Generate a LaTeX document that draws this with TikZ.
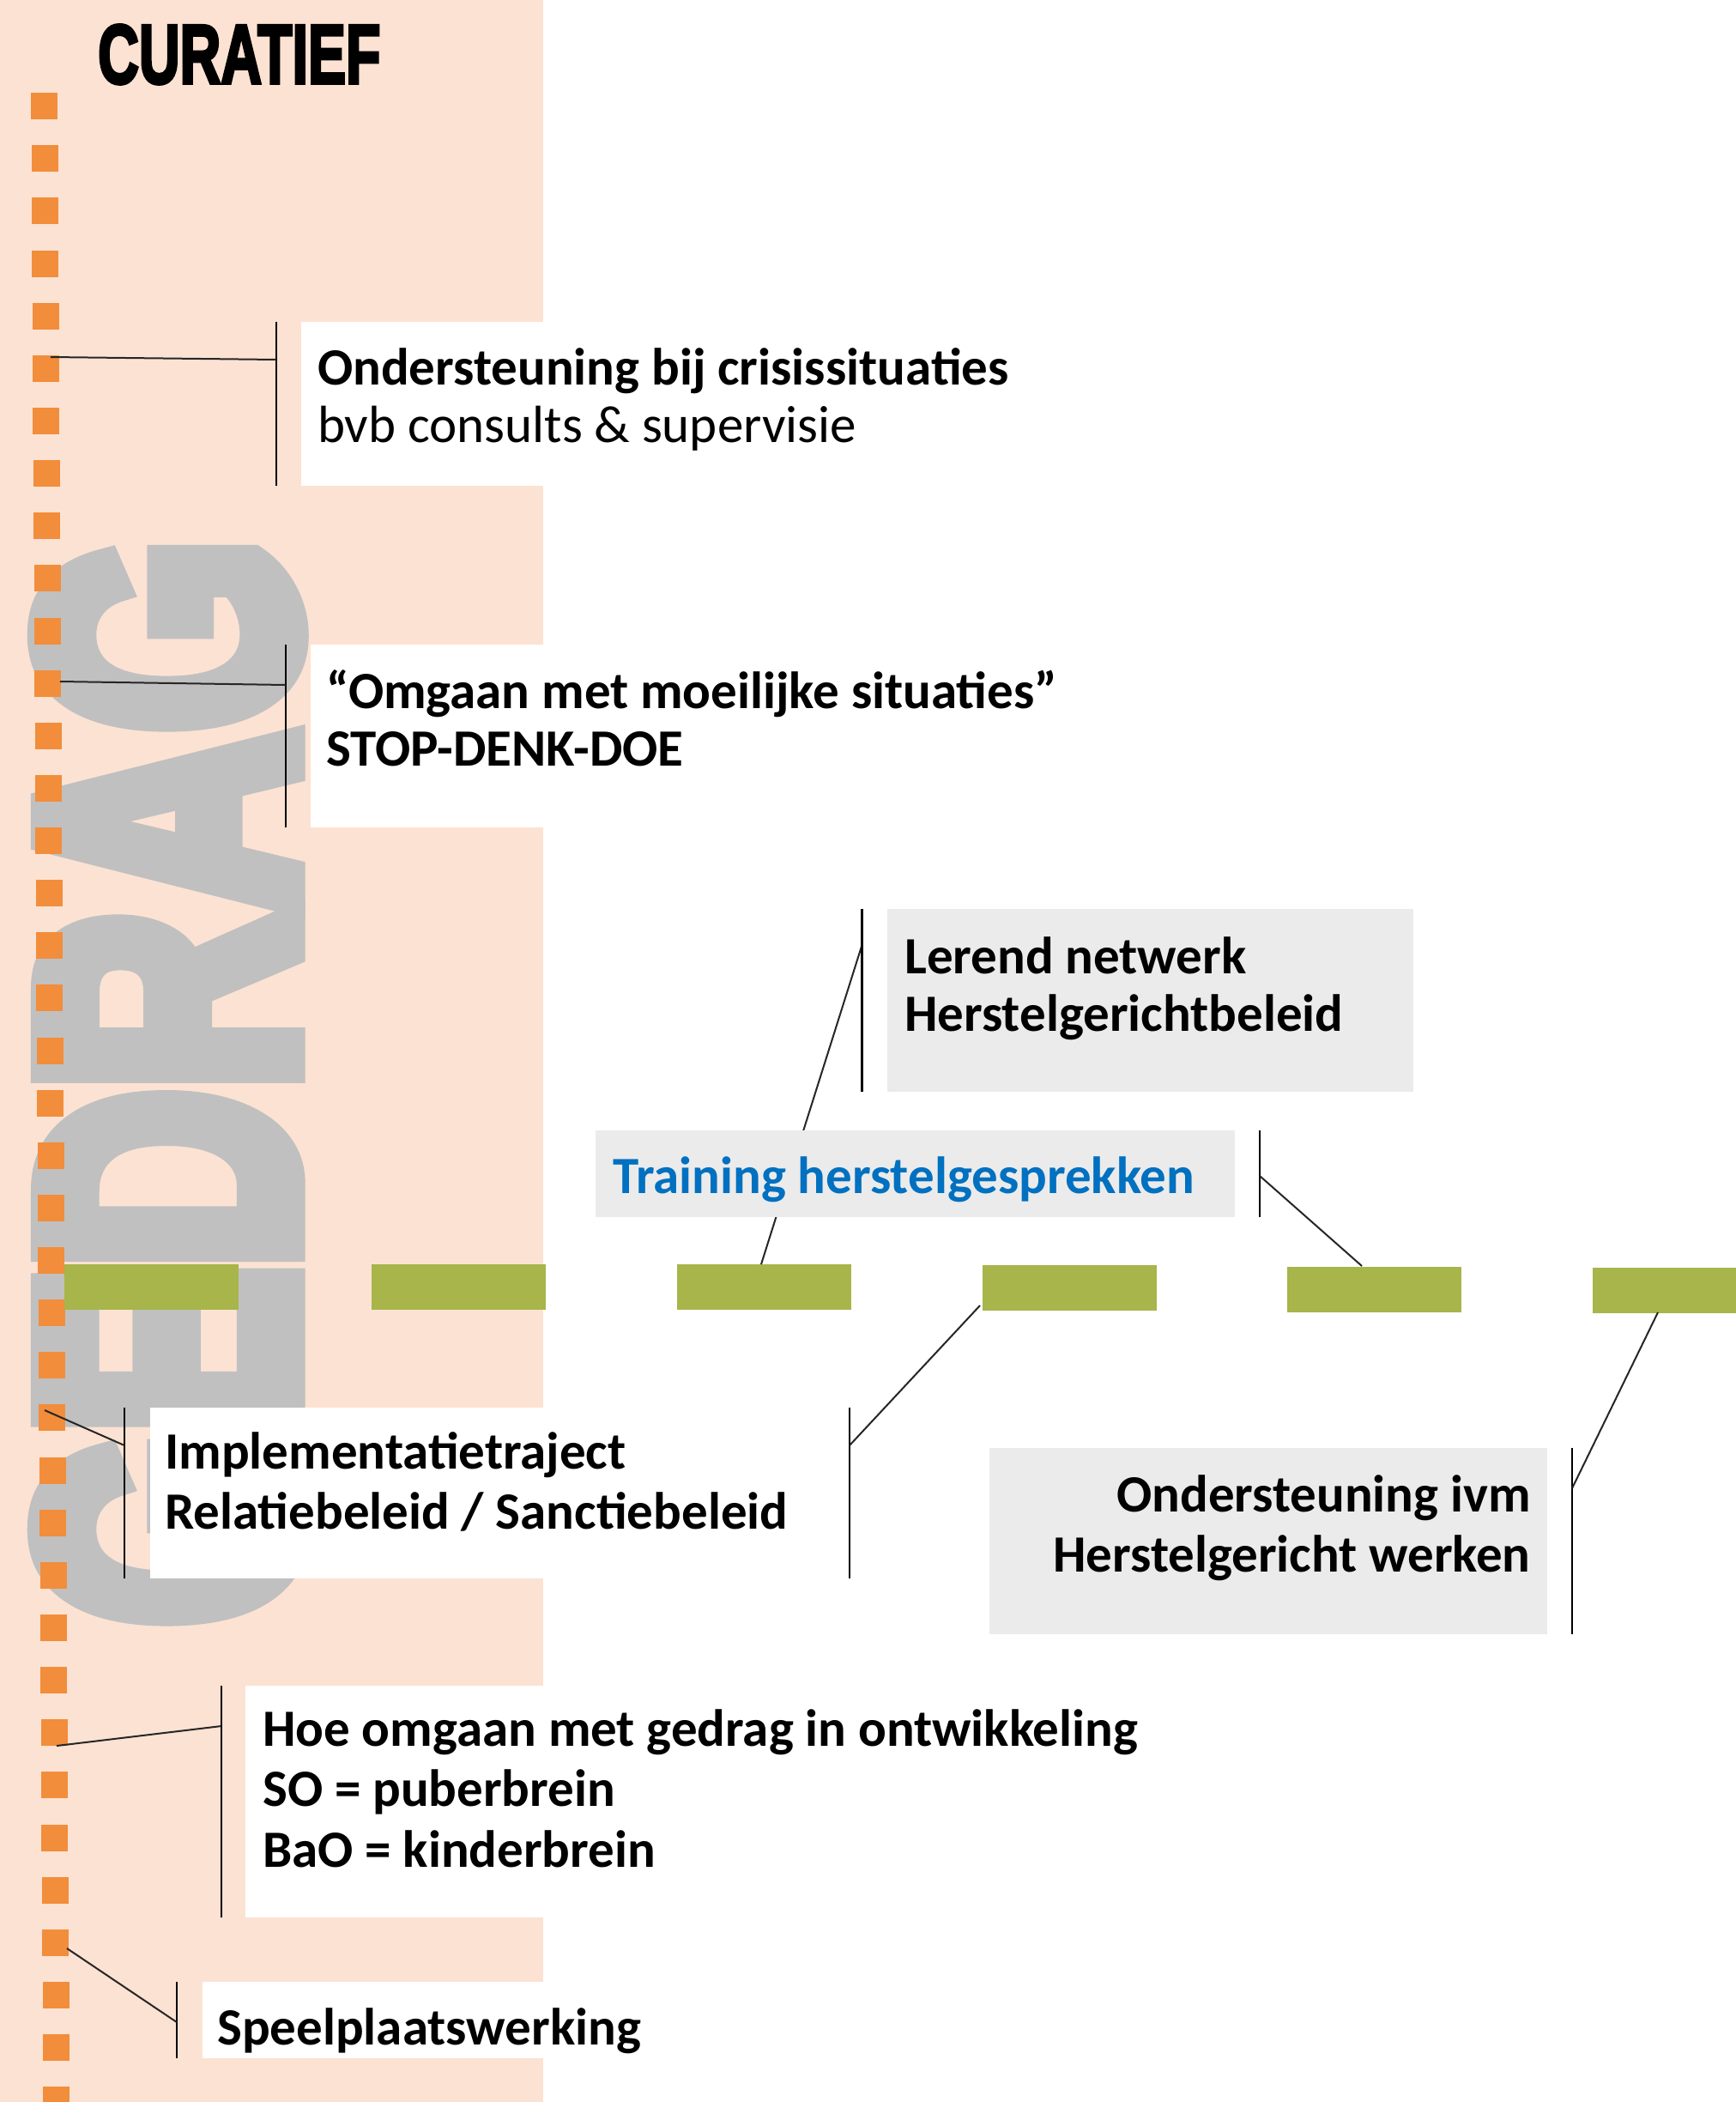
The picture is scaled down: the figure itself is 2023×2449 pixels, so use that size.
\documentclass[tikz,border=0pt]{standalone}
\usepackage{fontspec}
\setmainfont{Carlito}
\newfontfamily\headfont[FakeBold=4]{Liberation Sans Bold}
\newfontfamily\bigfont[FakeBold=8]{Liberation Sans Bold}
\definecolor{peach}{RGB}{252,226,211}
\definecolor{sqorange}{RGB}{242,141,59}
\definecolor{bggray}{RGB}{192,192,192}
\definecolor{dashgreen}{RGB}{167,181,74}
\definecolor{boxgray}{RGB}{235,235,235}
\definecolor{txtblue}{RGB}{0,112,192}
\tikzset{
  sq/.style={fill=sqorange, draw=none, minimum width=31pt, minimum height=31pt, inner sep=0pt, anchor=north west},
  dashbar/.style={fill=dashgreen, draw=none, minimum width=203pt, minimum height=53pt, inner sep=0pt, anchor=north west},
  lbl/.style={inner sep=0pt, anchor=base west, font=\fontsize{61pt}{70pt}\selectfont\bfseries},
  lblr/.style={lbl, anchor=base east},
  bar/.style={line width=2.8pt, black},
  conn/.style={line width=2pt, black!85},
}
\begin{document}
\begin{tikzpicture}[x=1pt,y=-1pt]
\useasboundingbox (0,0) rectangle (2023,2449);
\fill[white] (0,0) rectangle (2023,2449);
\fill[peach] (0,0) rectangle (633,2449);
% title
\node[inner sep=0pt, anchor=base west] (title) at (114,97) {\resizebox{329pt}{68pt}{\headfont CURATIEF}};
% big grey word
\node[inner sep=0pt, anchor=base west, rotate=90, text=bggray] (gedrag) at (339,1895) {\resizebox{1266pt}{290pt}{\bigfont GEDRAG}};
% squares
\foreach \i in {0,...,38} {
  \node[sq] (sq\i) at ({36+0.37*\i},{108+61.13*\i}) {};
}
% green dashes
\node[dashbar] (d1) at (75,1473) {};
\node[dashbar] (d2) at (433,1473) {};
\node[dashbar] (d3) at (789,1473) {};
\node[dashbar] (d4) at (1145,1474) {};
\node[dashbar] (d5) at (1500,1476) {};
\node[dashbar] (d6) at (1856,1477) {};
% connector hidden behind training box
\coordinate (d3top) at (887,1473);
\coordinate (lerendmid) at (1004.5,1101);
\draw[conn] (d3top) -- (lerendmid);
% boxes
\fill[white] (351,375) rectangle (1200,566);
\fill[white] (362,751) rectangle (1250,964);
\fill[white] (175,1640) rectangle (940,1839);
\fill[white] (286,1964) rectangle (1350,2234);
\fill[white] (236,2309) rectangle (760,2398);
\fill[boxgray] (1034,1059) rectangle (1647,1272);
\fill[boxgray] (694,1317) rectangle (1439,1418);
\fill[boxgray] (1153,1687) rectangle (1803,1904);
% texts
\node[lbl] (t1a) at (370,448) {Ondersteuning bij crisissituaties};
\node[lbl, font=\fontsize{61pt}{70pt}\selectfont] (t1b) at (370,515) {bvb consults \& supervisie};
\node[lbl] (t2a) at (380,825) {“Omgaan met moeilijke situaties”};
\node[lbl] (t2b) at (380,892) {STOP-DENK-DOE};
\node[lbl] (t3a) at (1054,1134) {Lerend netwerk};
\node[lbl] (t3b) at (1054,1201) {Herstelgerichtbeleid};
\node[lbl, text=txtblue] (t4) at (714,1390) {Training herstelgesprekken};
\node[lbl] (t5a) at (192,1711) {Implementatietraject};
\node[lbl] (t5b) at (192,1781) {Relatiebeleid / Sanctiebeleid};
\node[lblr] (t6a) at (1784,1761) {Ondersteuning ivm};
\node[lblr] (t6b) at (1784,1831) {Herstelgericht werken};
\node[lbl] (t7a) at (306,2034) {Hoe omgaan met gedrag in ontwikkeling};
\node[lbl] (t7b) at (306,2104) {SO = puberbrein};
\node[lbl] (t7c) at (306,2175) {BaO = kinderbrein};
\node[lbl] (t8) at (253,2382) {Speelplaatswerking};
% bars
\coordinate (b1t) at (322,375);   \coordinate (b1b) at (322,566);
\coordinate (b2t) at (333,751);   \coordinate (b2b) at (333,964);
\coordinate (b3t) at (1004.5,1059); \coordinate (b3b) at (1004.5,1272);
\coordinate (b4t) at (1468,1317); \coordinate (b4b) at (1468,1418);
\coordinate (b5t) at (145,1640);  \coordinate (b5b) at (145,1839);
\coordinate (b6t) at (990,1640);  \coordinate (b6b) at (990,1839);
\coordinate (b7t) at (1832,1687); \coordinate (b7b) at (1832,1904);
\coordinate (b8t) at (258,1964);  \coordinate (b8b) at (258,2234);
\coordinate (b9t) at (206,2309);  \coordinate (b9b) at (206,2398);
\foreach \k in {1,...,9} { \draw[bar] (b\k t) -- (b\k b); }
% connectors
\coordinate (c1s) at (59,416);   \coordinate (c1e) at (322,419);
\coordinate (c2s) at (70,794);   \coordinate (c2e) at (333,798);
\coordinate (c4s) at (1468,1370); \coordinate (c4e) at (1587,1475);
\coordinate (c5s) at (52,1643);  \coordinate (c5e) at (145,1684);
\coordinate (c6s) at (1142,1521); \coordinate (c6e) at (990,1684);
\coordinate (c7s) at (1932,1529); \coordinate (c7e) at (1832,1734);
\coordinate (c8s) at (66,2034);  \coordinate (c8e) at (258,2011);
\coordinate (c9s) at (78,2270);  \coordinate (c9e) at (206,2356);
\foreach \k in {1,2,4,5,6,7,8,9} { \draw[conn] (c\k s) -- (c\k e); }
\end{tikzpicture}
\end{document}
